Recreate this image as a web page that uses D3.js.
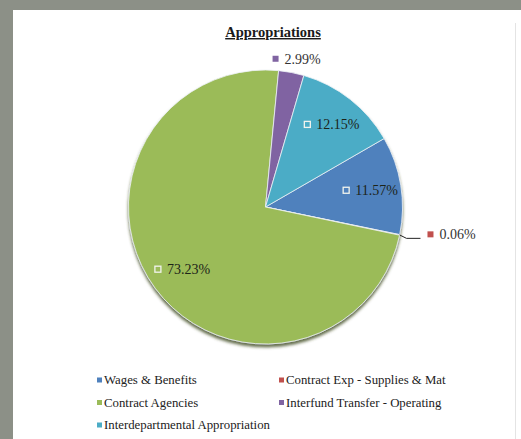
<!DOCTYPE html>
<html>
<head>
<meta charset="utf-8">
<script src="https://cdn.jsdelivr.net/npm/d3@7"></script>
<style>
  html, body { margin: 0; padding: 0; background: #8c9087; }
  svg { display: block; }
</style>
</head>
<body>
<div id="chart"></div>
<script>
// chart data, in the order the spreadsheet lists it
var categories = ["Wages & Benefits", "Contract Exp - Supplies & Mat", "Contract Agencies",
                  "Interfund Transfer - Operating", "Interdepartmental Appropriation"];
var shares = [11.57, 0.06, 73.23, 2.99, 12.15];
var colors = ["#4f81bd", "#c0504d", "#9bbb59", "#8064a2", "#4bacc6"];
var labels = ["11.57%", "0.06%", "73.23%", "2.99%", "12.15%"];
var title = "Appropriations";

var width = 521, height = 439;
var cx = 265.5, cy = 207, radius = 137;
var font = "'Liberation Serif', 'DejaVu Serif', serif";

var svg = d3.select("#chart").append("svg")
    .attr("width", width)
    .attr("height", height);

// grey page and white chart panel
svg.append("rect").attr("width", width).attr("height", height).attr("fill", "#8c9087");
svg.append("rect").attr("x", 13).attr("y", 10).attr("width", width - 13).attr("height", height - 10)
    .attr("fill", "#ffffff");
svg.append("line").attr("x1", 515.5).attr("x2", 515.5).attr("y1", 23).attr("y2", height)
    .attr("stroke", "#e4e4e4").attr("stroke-width", 1);

var defs = svg.append("defs");
var shadow = defs.append("filter").attr("id", "pieShadow")
    .attr("x", "-10%").attr("y", "-10%").attr("width", "120%").attr("height", "125%");
shadow.append("feDropShadow").attr("dx", 0).attr("dy", 3).attr("stdDeviation", 1.6)
    .attr("flood-color", "#3d4a22").attr("flood-opacity", 0.8);

/* Title */
svg.append("text")
    .attr("x", 273).attr("y", 37)
    .attr("text-anchor", "middle")
    .attr("font-family", font)
    .attr("font-size", 14.5)
    .attr("font-weight", "bold")
    .attr("fill", "#1a1a1a")
    .style("text-decoration", "underline")
    .text(title);

/* Pie: first slice starts at 60 degrees, going clockwise */
var start = 60 * Math.PI / 180;
var pie = d3.pie().sort(null).startAngle(start).endAngle(start + 2 * Math.PI);
var arcs = pie(shares);

var arc = d3.arc().innerRadius(0).outerRadius(radius);
var g = svg.append("g").attr("transform", "translate(" + cx + "," + cy + ")");

g.append("g").attr("filter", "url(#pieShadow)")
  .selectAll(".slice")
    .data(arcs)
  .enter().append("path")
    .attr("class", "slice")
    .attr("d", arc)
    .attr("fill", function(d, i) { return colors[i]; })
    .attr("stroke", "#eef2f6")
    .attr("stroke-width", 0.8);

/* Data labels */
var inside = d3.arc().innerRadius(105).outerRadius(105);
var markerSize = 6, markerGap = 6;

function drawLabel(i, x, y, inner) {
	var lab = g.append("g");
	var t = lab.append("text")
	    .attr("x", x + markerSize + markerGap)
	    .attr("y", y)
	    .attr("dy", "0.35em")
	    .attr("font-family", font)
	    .attr("font-size", 14)
	    .attr("fill", inner ? "#1c2418" : "#333333")
	    .text(labels[i]);
	var m = lab.append("rect")
	    .attr("x", x).attr("y", y - markerSize / 2)
	    .attr("width", markerSize).attr("height", markerSize);
	if (inner) {
		m.attr("fill", colors[i]).attr("stroke", "#f2f4ee").attr("stroke-width", 1.3);
	} else {
		m.attr("fill", colors[i]);
	}
	return t;
}

arcs.forEach(function(d, i) {
	var mid = (d.startAngle + d.endAngle) / 2;
	if (shares[i] > 10) {
		// center marker + text around the centroid
		var c = inside.centroid(d);
		var tw = labels[i].length * 7;
		drawLabel(i, c[0] - (markerSize + markerGap + tw) / 2 + 1, c[1], true);
	} else if (shares[i] > 1) {
		var r = radius + 17;
		var x = r * Math.sin(mid), y = -r * Math.cos(mid) + 3;
		drawLabel(i, x - 22, y, false);
	} else {
		// tiny slice: leader line out to the right
		var e0 = [radius * Math.sin(mid), -radius * Math.cos(mid)];
		var e1 = [(radius + 7) * Math.sin(mid), -(radius + 7) * Math.cos(mid) + 2];
		var e2 = [e1[0] + 14, e1[1]];
		g.append("path")
		    .attr("d", d3.line()([e0, e1, e2]))
		    .attr("fill", "none")
		    .attr("stroke", "#222222")
		    .attr("stroke-width", 1);
		drawLabel(i, e2[0] + 7, e1[1] - 4, false);
	}
});

/* Legend, two columns */
var legendX = [97, 279];
var legendY = d3.scalePoint().domain([0, 1, 2]).range([380, 425]);
var legend = svg.selectAll(".legend")
    .data(categories)
  .enter().append("g")
    .attr("class", "legend")
    .attr("transform", function(d, i) {
		return "translate(" + legendX[i % 2] + "," + legendY(Math.floor(i / 2)) + ")"; });

legend.append("rect")
    .attr("x", 0).attr("y", -2.5)
    .attr("width", 5).attr("height", 5)
    .attr("fill", function(d, i) { return colors[i]; });

legend.append("text")
    .attr("x", 7).attr("y", 0)
    .attr("dy", "0.35em")
    .attr("font-family", font)
    .attr("font-size", 12.8)
    .attr("fill", "#222222")
    .text(function(d) { return d; });
</script>
</body>
</html>
